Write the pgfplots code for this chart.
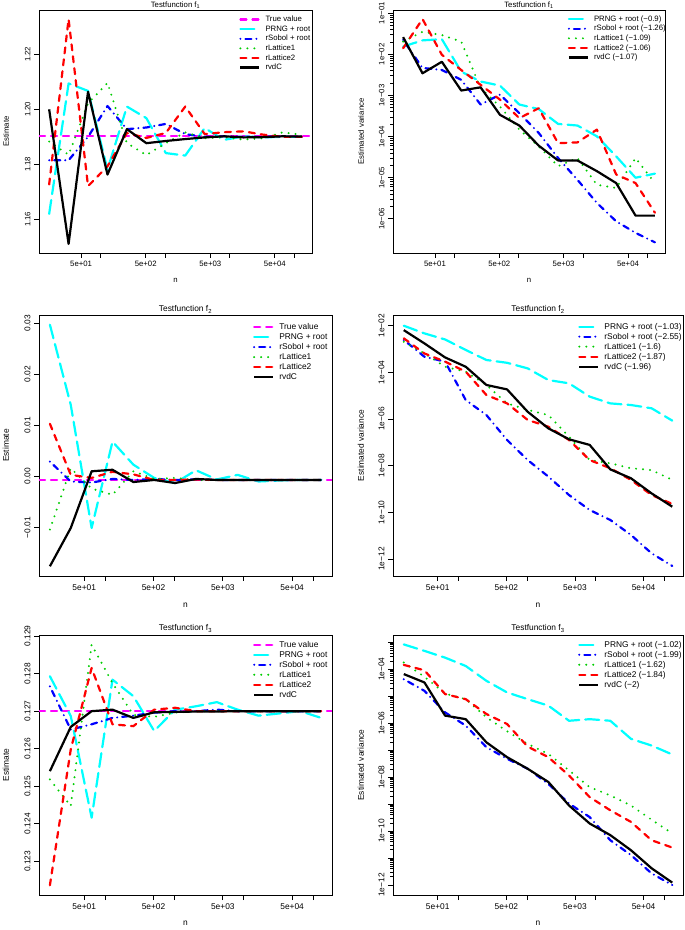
\documentclass[border=0pt]{standalone}
\usepackage{fontspec}
\setmainfont{Liberation Sans}
\usepackage{pgfplots}
\pgfplotsset{compat=1.18}
\definecolor{Rcyan}{RGB}{0,255,255}
\definecolor{Rblue}{RGB}{0,0,255}
\definecolor{Rgreen}{RGB}{0,205,0}
\definecolor{Rred}{RGB}{255,0,0}
\definecolor{Rmag}{RGB}{255,0,255}
\newcommand\fA{\fontsize{7.8}{9}\selectfont}
\newcommand\fB{\fontsize{8.4}{10}\selectfont}
\tikzset{
 truev/.style={Rmag, line width=2.2bp, line cap=round, line join=round, dash pattern=on 6bp off 6bp},
 prng/.style={Rcyan, line width=2.2bp, line cap=round, line join=round, dash pattern=on 14bp off 6bp},
 sobol/.style={Rblue, line width=2.2bp, line cap=round, line join=round, dash pattern=on 0bp off 5bp on 6bp off 5bp},
 lat1/.style={Rgreen, line width=2.2bp, line cap=round, line join=round, dash pattern=on 0bp off 7bp},
 lat2/.style={Rred, line width=2.2bp, line cap=round, line join=round, dash pattern=on 6bp off 6bp},
 rvdc/.style={black, line width=2.2bp, line join=round},
}
\pgfplotsset{
  legend image code/.code={\draw[#1] (0bp,0bp) -- (19bp,0bp);},
  every axis/.append style={
   scale only axis, scaled ticks=false,
   tick align=outside, tick pos=left,
   major tick length=5bp, minor tick num=0,
   axis line style={line width=0.9bp},
   every tick/.style={black, line width=0.9bp},
   yticklabel style={rotate=90, anchor=south},
   legend cell align=left,
  },
}
\begin{document}
\begin{tikzpicture}
\useasboundingbox (0bp,0bp) rectangle (685bp,930bp);
% ---------------- Panel 1: f1 estimate
\begin{axis}[anchor=south west, at={(39bp,677bp)}, width=273bp, height=243bp,
  xmode=log, xmin=11.14, xmax=187900,
  xtick={50,100,500,1000,5000,10000,50000,100000}, xticklabels={5e+01,,5e+02,,5e+03,,5e+04,},
  font=\fA, tick label style={font=\fA},
  ymin=1.1478, ymax=1.2361, ytick={1.16,1.18,1.20,1.22}, yticklabels={1.16,1.18,1.20,1.22},
  xlabel={n}, ylabel={Estimate}, title={Testfunction f\textsubscript{1}},
  xlabel style={at={(axis description cs:0.5,0)}, anchor=center, yshift=-27bp},
  ylabel style={at={(axis description cs:0,0.5)}, anchor=center, yshift=33bp},
  title style={at={(axis description cs:0.5,1)}, anchor=center, yshift=-1bp},
  legend style={draw=none, fill=none, anchor=north west, inner sep=0pt, row sep=2bp, column sep=5bp,
     font=\fA, nodes={inner sep=0pt, text height=6bp, text depth=1.6bp},
     at={(axis description cs:0.733,0.977)}}]
\addplot[truev] coordinates {(11.14,1.1902) (187900,1.1902)};
\addlegendentry{True value}
\addplot[prng] coordinates {(16,1.1620) (32,1.2094) (64,1.2067) (128,1.1781) (256,1.2010) (512,1.1968) (1024,1.1841) (2048,1.1832) (4096,1.1932) (8192,1.1889) (16384,1.1902) (32768,1.1898) (65536,1.1900) (131072,1.1900)};
\addlegendentry{PRNG + root}
\addplot[sobol] coordinates {(16,1.1815) (32,1.1815) (64,1.1900) (128,1.2012) (256,1.1928) (512,1.1934) (1024,1.1947) (2048,1.1910) (4096,1.1900) (8192,1.1902) (16384,1.1900) (32768,1.1900) (65536,1.1901) (131072,1.1900)};
\addlegendentry{rSobol + root}
\addplot[lat1] coordinates {(16,1.1883) (32,1.1835) (64,1.2022) (128,1.2096) (256,1.1877) (512,1.1834) (1024,1.1877) (2048,1.1916) (4096,1.1895) (8192,1.1899) (16384,1.1890) (32768,1.1895) (65536,1.1916) (131072,1.1908)};
\addlegendentry{rLattice1}
\addplot[lat2] coordinates {(16,1.1727) (32,1.2328) (64,1.1721) (128,1.1793) (256,1.1914) (512,1.1896) (1024,1.1914) (2048,1.2010) (4096,1.1910) (8192,1.1917) (16384,1.1920) (32768,1.1908) (65536,1.1900) (131072,1.1900)};
\addlegendentry{rLattice2}
\addplot[rvdc] coordinates {(16,1.2000) (32,1.1511) (64,1.2064) (128,1.1763) (256,1.1928) (512,1.1877) (1024,1.1885) (2048,1.1892) (4096,1.1898) (8192,1.1902) (16384,1.1898) (32768,1.1899) (65536,1.1902) (131072,1.1901)};
\addlegendentry{rvdC}
\end{axis}
% ---------------- Panel 2: f1 variance
\begin{axis}[anchor=south west, at={(393bp,677bp)}, width=272bp, height=243bp,
  xmode=log, xmin=11.14, xmax=187900,
  xtick={50,100,500,1000,5000,10000,50000,100000}, xticklabels={5e+01,,5e+02,,5e+03,,5e+04,},
  font=\fA, tick label style={font=\fA},
  ymode=log, ymin=1.48e-7, ymax=0.12,
  ytick={1e-6,1e-5,1e-4,1e-3,1e-2,1e-1}, yticklabels={1e−06,1e−05,1e−04,1e−03,1e−02,1e−01},
  xlabel={n}, ylabel={Estimated variance}, title={Testfunction f\textsubscript{1}},
  xlabel style={at={(axis description cs:0.5,0)}, anchor=center, yshift=-27bp},
  ylabel style={at={(axis description cs:0,0.5)}, anchor=center, yshift=32bp},
  title style={at={(axis description cs:0.5,1)}, anchor=center, yshift=-1bp},
  legend style={draw=none, fill=none, anchor=north west, inner sep=0pt, row sep=2bp, column sep=5bp,
     font=\fA, nodes={inner sep=0pt, text height=6bp, text depth=1.6bp},
     at={(axis description cs:0.642,0.979)}}]
\addplot[prng] coordinates {(16,1.55e-2) (32,2.19e-2) (64,2.34e-2) (128,3.80e-3) (256,2.19e-3) (512,1.74e-3) (1024,6.03e-4) (2048,4.68e-4) (4096,2.04e-4) (8192,1.86e-4) (16384,1.02e-4) (32768,3.31e-5) (65536,1.00e-5) (131072,1.26e-5)};
\addlegendentry{PRNG + root (−0.9)}
\addplot[sobol] coordinates {(16,2.24e-2) (32,4.68e-3) (64,4.17e-3) (128,2.40e-3) (256,6.03e-4) (512,1.05e-3) (1024,3.72e-4) (2048,1.23e-4) (4096,3.02e-5) (8192,8.91e-6) (16384,2.45e-6) (32768,8.71e-7) (65536,4.57e-7) (131072,2.69e-7)};
\addlegendentry{rSobol + root (−1.26)}
\addplot[lat1] coordinates {(16,2.04e-2) (32,3.55e-2) (64,2.95e-2) (128,2.04e-2) (256,1.51e-3) (512,5.37e-4) (1024,1.48e-4) (2048,5.75e-5) (4096,1.91e-5) (8192,3.02e-5) (16384,6.76e-6) (32768,5.62e-6) (65536,3.02e-5) (131072,7.41e-6)};
\addlegendentry{rLattice1 (−1.09)}
\addplot[lat2] coordinates {(16,1.41e-2) (32,7.24e-2) (64,9.77e-3) (128,4.17e-3) (256,1.82e-3) (512,7.94e-4) (1024,2.82e-4) (2048,4.90e-4) (4096,6.92e-5) (8192,7.24e-5) (16384,1.48e-4) (32768,1.20e-5) (65536,7.41e-6) (131072,1.41e-6)};
\addlegendentry{rLattice2 (−1.06)}
\addplot[rvdc] coordinates {(16,2.63e-2) (32,3.47e-3) (64,6.61e-3) (128,1.32e-3) (256,1.58e-3) (512,3.39e-4) (1024,1.86e-4) (2048,6.03e-5) (4096,2.63e-5) (8192,2.63e-5) (16384,1.45e-5) (32768,7.41e-6) (65536,1.20e-6) (131072,1.20e-6)};
\addlegendentry{rvdC (−1.07)}
\end{axis}
% ---------------- Panel 3: f2 estimate
\begin{axis}[anchor=south west, at={(39bp,354bp)}, width=293bp, height=261bp,
  xmode=log, xmin=11.14, xmax=187900,
  xtick={50,100,500,1000,5000,10000,50000,100000}, xticklabels={5e+01,,5e+02,,5e+03,,5e+04,},
  font=\fB, tick label style={font=\fB},
  ymin=-0.0195, ymax=0.0316, ytick={-0.01,0,0.01,0.02,0.03}, yticklabels={−0.01,0.00,0.01,0.02,0.03},
  xlabel={n}, ylabel={Estimate}, title={Testfunction f\textsubscript{2}},
  xlabel style={at={(axis description cs:0.5,0)}, anchor=center, yshift=-29bp},
  ylabel style={at={(axis description cs:0,0.5)}, anchor=center, yshift=33bp},
  title style={at={(axis description cs:0.5,1)}, anchor=center, yshift=-0.5bp},
  legend style={draw=none, fill=none, anchor=north west, inner sep=0pt, row sep=1.8bp, column sep=5bp,
     font=\fB, nodes={inner sep=0pt, text height=6.5bp, text depth=1.7bp},
     at={(axis description cs:0.730,0.970)}}]
\addplot[truev] coordinates {(11.14,-0.00065) (187900,-0.00065)};
\addlegendentry{True value}
\addplot[prng] coordinates {(16,0.0297) (32,0.0140) (64,-0.0101) (128,0.0068) (256,0.0023) (512,-0.0003) (1024,-0.0013) (2048,0.0012) (4096,-0.0006) (8192,0.0003) (16384,-0.0010) (32768,-0.0008) (65536,-0.0007) (131072,-0.0007)};
\addlegendentry{PRNG + root}
\addplot[sobol] coordinates {(16,0.0029) (32,-0.0010) (64,-0.0012) (128,-0.0005) (256,-0.0007) (512,-0.0005) (1024,-0.0007) (2048,-0.0006) (4096,-0.0007) (8192,-0.0007) (16384,-0.0007) (32768,-0.0007) (65536,-0.0007) (131072,-0.0007)};
\addlegendentry{rSobol + root}
\addplot[lat1] coordinates {(16,-0.0104) (32,0.0016) (64,-0.0024) (128,-0.0036) (256,0.0010) (512,-0.0005) (1024,-0.0003) (2048,-0.0007) (4096,-0.0007) (8192,-0.0007) (16384,-0.0007) (32768,-0.0007) (65536,-0.0007) (131072,-0.0007)};
\addlegendentry{rLattice1}
\addplot[lat2] coordinates {(16,0.0103) (32,0.0003) (64,-0.0003) (128,0.0009) (256,0.0004) (512,-0.0007) (1024,-0.0007) (2048,-0.0006) (4096,-0.0007) (8192,-0.0007) (16384,-0.0007) (32768,-0.0007) (65536,-0.0007) (131072,-0.0007)};
\addlegendentry{rLattice2}
\addplot[rvdc] coordinates {(16,-0.0176) (32,-0.0101) (64,0.0010) (128,0.0013) (256,-0.0011) (512,-0.0007) (1024,-0.0013) (2048,-0.0005) (4096,-0.0007) (8192,-0.0007) (16384,-0.0007) (32768,-0.0007) (65536,-0.0007) (131072,-0.0007)};
\addlegendentry{rvdC}
\end{axis}
% ---------------- Panel 4: f2 variance
\begin{axis}[anchor=south west, at={(393bp,354bp)}, width=290bp, height=261bp,
  xmode=log, xmin=11.14, xmax=187900,
  xtick={50,100,500,1000,5000,10000,50000,100000}, xticklabels={5e+01,,5e+02,,5e+03,,5e+04,},
  font=\fB, tick label style={font=\fB},
  ymode=log, ymin=1.86e-13, ymax=2.88e-2,
  ytick={1e-12,1e-10,1e-8,1e-6,1e-4,1e-2}, yticklabels={1e−12,1e−10,1e−08,1e−06,1e−04,1e−02},
  xlabel={n}, ylabel={Estimated variance}, title={Testfunction f\textsubscript{2}},
  xlabel style={at={(axis description cs:0.5,0)}, anchor=center, yshift=-29bp},
  ylabel style={at={(axis description cs:0,0.5)}, anchor=center, yshift=32bp},
  title style={at={(axis description cs:0.5,1)}, anchor=center, yshift=-0.5bp},
  legend style={draw=none, fill=none, anchor=north west, inner sep=0pt, row sep=1.8bp, column sep=5bp,
     font=\fB, nodes={inner sep=0pt, text height=6.5bp, text depth=1.7bp},
     at={(axis description cs:0.638,0.972)}}]
\addplot[prng] coordinates {(16,1.00e-2) (32,4.68e-3) (64,2.57e-3) (128,9.12e-4) (256,3.39e-4) (512,2.57e-4) (1024,1.48e-4) (2048,4.68e-5) (4096,3.39e-5) (8192,9.12e-6) (16384,4.68e-6) (32768,3.98e-6) (65536,2.88e-6) (131072,8.51e-7)};
\addlegendentry{PRNG + root (−1.03)}
\addplot[sobol] coordinates {(16,2.45e-3) (32,4.68e-4) (64,2.88e-4) (128,6.46e-6) (256,1.48e-6) (512,1.26e-7) (1024,1.74e-8) (2048,3.39e-9) (4096,5.50e-10) (8192,1.26e-10) (16384,4.68e-11) (32768,1.07e-11) (65536,1.74e-12) (131072,5.01e-13)};
\addlegendentry{rSobol + root (−2.55)}
\addplot[lat1] coordinates {(16,2.04e-3) (32,6.46e-4) (64,1.74e-4) (128,1.07e-4) (256,2.88e-5) (512,4.68e-6) (1024,2.45e-6) (2048,1.48e-6) (4096,1.74e-7) (8192,1.74e-8) (16384,1.26e-8) (32768,7.76e-9) (65536,6.46e-9) (131072,2.45e-9)};
\addlegendentry{rLattice1 (−1.6)}
\addplot[lat2] coordinates {(16,2.88e-3) (32,6.46e-4) (64,2.88e-4) (128,1.07e-4) (256,1.07e-5) (512,4.68e-6) (1024,9.12e-7) (2048,4.68e-7) (4096,1.26e-7) (8192,1.74e-8) (16384,7.76e-9) (32768,2.45e-9) (65536,5.50e-10) (131072,2.29e-10)};
\addlegendentry{rLattice2 (−1.87)}
\addplot[rvdc] coordinates {(16,6.46e-3) (32,1.74e-3) (64,4.37e-4) (128,1.74e-4) (256,2.88e-5) (512,1.86e-5) (1024,2.04e-6) (2048,3.98e-7) (4096,1.35e-7) (8192,7.76e-8) (16384,6.92e-9) (32768,2.88e-9) (65536,6.46e-10) (131072,1.74e-10)};
\addlegendentry{rvdC (−1.96)}
\end{axis}
% ---------------- Panel 5: f3 estimate
\begin{axis}[anchor=south west, at={(39bp,35bp)}, width=293bp, height=260bp,
  xmode=log, xmin=11.14, xmax=187900,
  xtick={50,100,500,1000,5000,10000,50000,100000}, xticklabels={5e+01,,5e+02,,5e+03,,5e+04,},
  font=\fB, tick label style={font=\fB},
  ymin=0.12210, ymax=0.12903, ytick={0.123,0.124,0.125,0.126,0.127,0.128,0.129},
  yticklabels={0.123,0.124,0.125,0.126,0.127,0.128,0.129},
  xlabel={n}, ylabel={Estimate}, title={Testfunction f\textsubscript{3}},
  xlabel style={at={(axis description cs:0.5,0)}, anchor=center, yshift=-28bp},
  ylabel style={at={(axis description cs:0,0.5)}, anchor=center, yshift=33bp},
  title style={at={(axis description cs:0.5,1)}, anchor=center, yshift=0.5bp},
  legend style={draw=none, fill=none, anchor=north west, inner sep=0pt, row sep=1.8bp, column sep=5bp,
     font=\fB, nodes={inner sep=0pt, text height=6.5bp, text depth=1.7bp},
     at={(axis description cs:0.730,0.979)}}]
\addplot[truev] coordinates {(11.14,0.12700) (187900,0.12700)};
\addlegendentry{True value}
\addplot[prng] coordinates {(16,0.12793) (32,0.12687) (64,0.12416) (128,0.12784) (256,0.12740) (512,0.12647) (1024,0.12704) (2048,0.12713) (4096,0.12724) (8192,0.12704) (16384,0.12688) (32768,0.12694) (65536,0.12700) (131072,0.12682)};
\addlegendentry{PRNG + root}
\addplot[sobol] coordinates {(16,0.12766) (32,0.12651) (64,0.12665) (128,0.12682) (256,0.12688) (512,0.12696) (1024,0.12700) (2048,0.12700) (4096,0.12704) (8192,0.12700) (16384,0.12700) (32768,0.12700) (65536,0.12700) (131072,0.12700)};
\addlegendentry{rSobol + root}
\addplot[lat1] coordinates {(16,0.12518) (32,0.12447) (64,0.12877) (128,0.12775) (256,0.12690) (512,0.12685) (1024,0.12696) (2048,0.12700) (4096,0.12700) (8192,0.12700) (16384,0.12700) (32768,0.12700) (65536,0.12700) (131072,0.12700)};
\addlegendentry{rLattice1}
\addplot[lat2] coordinates {(16,0.12236) (32,0.12598) (64,0.12815) (128,0.12665) (256,0.12660) (512,0.12704) (1024,0.12709) (2048,0.12700) (4096,0.12700) (8192,0.12700) (16384,0.12700) (32768,0.12700) (65536,0.12700) (131072,0.12700)};
\addlegendentry{rLattice2}
\addplot[rvdc] coordinates {(16,0.12540) (32,0.12658) (64,0.12700) (128,0.12704) (256,0.12682) (512,0.12697) (1024,0.12698) (2048,0.12699) (4096,0.12699) (8192,0.12700) (16384,0.12700) (32768,0.12700) (65536,0.12700) (131072,0.12700)};
\addlegendentry{rvdC}
\end{axis}
% ---------------- Panel 6: f3 variance
\begin{axis}[anchor=south west, at={(393bp,35bp)}, width=290bp, height=260bp,
  xmode=log, xmin=11.14, xmax=187900,
  xtick={50,100,500,1000,5000,10000,50000,100000}, xticklabels={5e+01,,5e+02,,5e+03,,5e+04,},
  font=\fB, tick label style={font=\fB},
  ymode=log, ymin=4.27e-13, ymax=1.86e-3,
  ytick={1e-12,1e-11,1e-10,1e-9,1e-8,1e-7,1e-6,1e-5,1e-4,1e-3},
  yticklabels={1e−12,,1e−10,,1e−08,,1e−06,,1e−04,},
  xlabel={n}, ylabel={Estimated variance}, title={Testfunction f\textsubscript{3}},
  xlabel style={at={(axis description cs:0.5,0)}, anchor=center, yshift=-28bp},
  ylabel style={at={(axis description cs:0,0.5)}, anchor=center, yshift=32bp},
  title style={at={(axis description cs:0.5,1)}, anchor=center, yshift=0.5bp},
  legend style={draw=none, fill=none, anchor=north west, inner sep=0pt, row sep=1.8bp, column sep=5bp,
     font=\fB, nodes={inner sep=0pt, text height=6.5bp, text depth=1.7bp},
     at={(axis description cs:0.638,0.979)}}]
\addplot[prng] coordinates {(16,8.32e-4) (32,4.79e-4) (64,2.69e-4) (128,1.32e-4) (256,3.72e-5) (512,1.38e-5) (1024,7.76e-6) (2048,4.47e-6) (4096,1.23e-6) (8192,1.41e-6) (16384,1.23e-6) (32768,2.63e-7) (65536,1.48e-7) (131072,6.92e-8)};
\addlegendentry{PRNG + root (−1.02)}
\addplot[sobol] coordinates {(16,4.27e-5) (32,1.58e-5) (64,2.51e-6) (128,8.13e-7) (256,1.29e-7) (512,4.79e-8) (1024,2.04e-8) (2048,5.62e-9) (4096,1.05e-9) (8192,3.31e-10) (16384,4.57e-11) (32768,1.29e-11) (65536,2.69e-12) (131072,1.00e-12)};
\addlegendentry{rSobol + root (−1.99)}
\addplot[lat1] coordinates {(16,1.78e-4) (32,5.25e-5) (64,1.26e-5) (128,7.76e-6) (256,1.66e-6) (512,5.01e-7) (1024,1.70e-7) (2048,7.24e-8) (4096,1.78e-8) (8192,4.27e-9) (16384,2.09e-9) (32768,8.91e-10) (65536,2.63e-10) (131072,8.13e-11)};
\addlegendentry{rLattice1 (−1.62)}
\addplot[lat2] coordinates {(16,1.45e-4) (32,9.12e-5) (64,1.20e-5) (128,7.76e-6) (256,2.19e-6) (512,9.33e-7) (1024,1.35e-7) (2048,5.50e-8) (4096,1.15e-8) (8192,1.82e-9) (16384,5.89e-10) (32768,2.19e-10) (65536,4.57e-11) (131072,2.45e-11)};
\addlegendentry{rLattice2 (−1.84)}
\addplot[rvdc] coordinates {(16,6.61e-5) (32,3.24e-5) (64,1.91e-6) (128,1.41e-6) (256,1.95e-7) (512,5.50e-8) (1024,2.04e-8) (2048,6.61e-9) (4096,8.91e-10) (8192,1.91e-10) (16384,7.08e-11) (32768,1.95e-11) (65536,4.17e-12) (131072,1.23e-12)};
\addlegendentry{rvdC (−2)}
\end{axis}
\end{tikzpicture}
\end{document}
